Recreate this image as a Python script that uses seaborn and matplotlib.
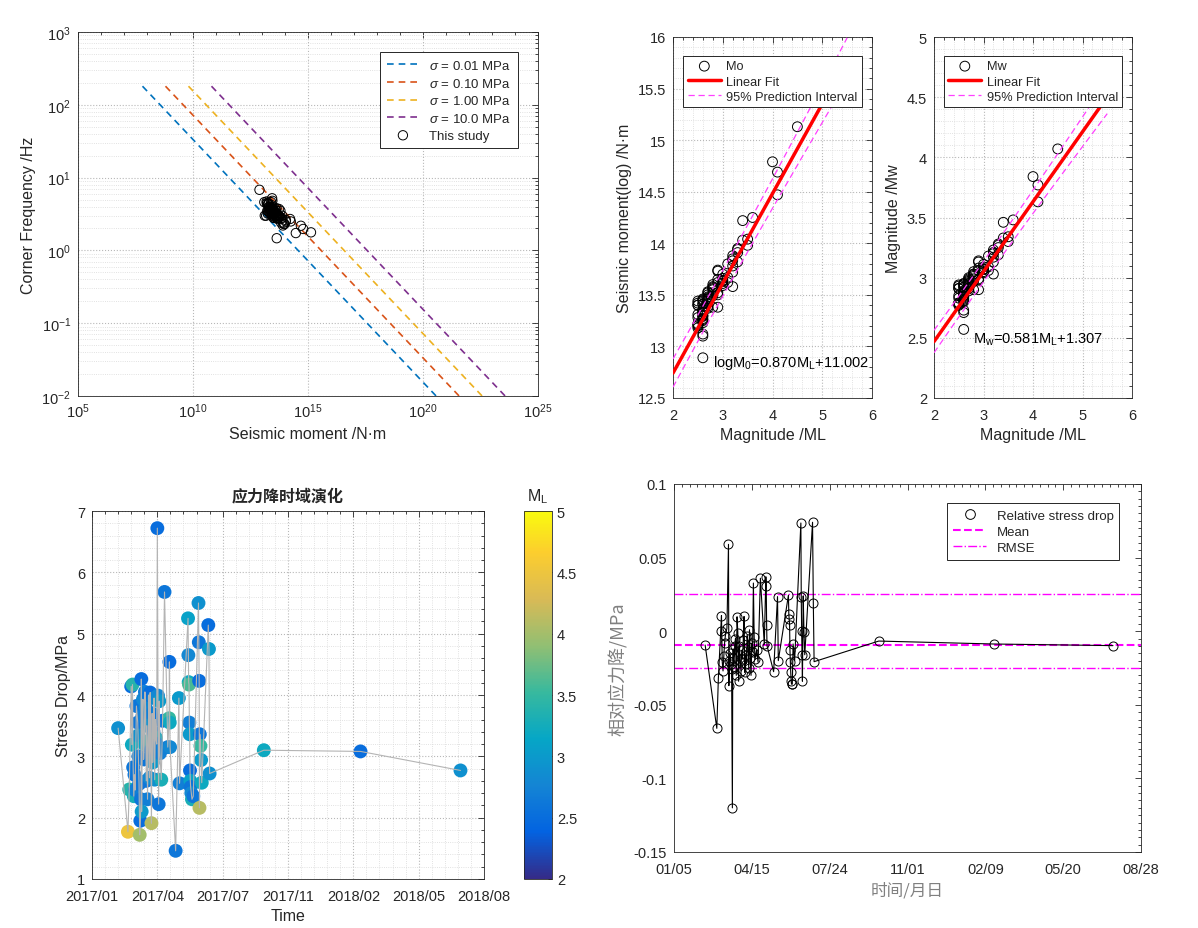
import numpy as np
import pandas as pd
import seaborn as sns
import matplotlib.pyplot as plt
import matplotlib.dates as mdates
from matplotlib.colors import LinearSegmentedColormap, Normalize
from matplotlib.cm import ScalarMappable
from matplotlib.lines import Line2D
from matplotlib.ticker import (MultipleLocator, LogLocator, NullFormatter,
                               FixedLocator, FormatStrFormatter, FuncFormatter)

# ---- event catalogue, in time order ----
# days after 2017-01-05
event_day = [40, 55, 57, 60, 61, 62, 63, 64, 65, 66,
             68, 70, 70.5, 71, 72, 73, 74, 75, 75.5, 76,
             77, 78, 79, 80, 81, 82, 83, 84, 85, 86,
             87, 88, 89, 90, 91, 92, 93, 94, 95, 96,
             97, 98, 99, 100, 101, 102, 103, 104, 106, 108,
             111, 116, 118, 118.5, 119, 119.5, 128, 133, 134, 147,
             147.5, 148, 148.5, 149, 149.5, 150, 150.5, 151, 152, 153,
             155, 163, 163.5, 164, 164.5, 165, 166, 167, 168, 178,
             179, 180, 263, 411, 564]

ml = [2.9, 4.5, 3.4, 2.5, 3.2, 3.4, 2.6, 3.3, 2.6, 2.7,
      2.6, 2.6, 2.9, 2.7, 2.6, 4.0, 2.5, 2.6, 2.5, 3.0,
      2.7, 2.8, 2.6, 3.1, 2.7, 2.8, 2.6, 2.9, 2.7, 3.3,
      2.6, 2.8, 2.5, 2.6, 4.1, 2.7, 3.0, 2.6, 2.8, 2.9,
      2.6, 3.2, 2.7, 2.5, 2.8, 2.6, 3.0, 2.7, 3.3, 2.6,
      2.6, 2.7, 3.5, 2.5, 3.2, 2.8, 2.6, 3.0, 2.7, 3.1,
      2.8, 3.2, 3.6, 2.7, 3.0, 2.5, 3.1, 2.6, 2.8, 3.3,
      2.6, 2.9, 2.6, 2.5, 4.1, 2.6, 3.5, 3.0, 3.2, 2.5,
      3.0, 2.9, 3.2, 2.5, 2.9]

stress_drop = [3.46, 1.77, 2.46, 4.14, 3.19, 4.17, 2.82, 2.35, 2.70, 2.45,
               3.82, 3.55, 3.34, 3.00, 2.55, 1.72, 1.95, 2.30, 4.26, 2.10,
               3.65, 3.93, 2.95, 3.20, 4.05, 3.80, 2.60, 3.50, 2.30, 3.25,
               4.00, 2.65, 4.04, 3.10, 1.91, 3.70, 2.90, 3.40, 3.95, 2.62,
               3.60, 3.30, 3.20, 6.72, 3.99, 2.22, 3.90, 3.05, 2.62, 3.58,
               5.68, 3.15, 3.62, 4.54, 3.55, 3.15, 1.46, 3.95, 2.56, 5.25,
               4.65, 4.21, 4.17, 3.55, 3.36, 2.77, 2.60, 2.50, 2.40, 2.30,
               2.35, 5.50, 4.86, 4.23, 2.16, 3.36, 3.17, 2.94, 2.57, 5.14,
               4.75, 2.72, 3.10, 3.08, 2.77]

rel_drop = [-0.0094, -0.066, -0.032, 0.000, 0.0106, -0.021, -0.027, -0.017, -0.008, -0.003,
            0.002, 0.059, -0.037, -0.020, -0.015, -0.022, -0.026, -0.120, -0.018, -0.012,
            -0.024, -0.010, -0.005, -0.030, 0.0098, -0.001, -0.034, -0.0098, -0.020, -0.027,
            -0.013, -0.019, -0.006, 0.010, -0.028, -0.016, -0.022, -0.003, -0.011, -0.025,
            0.001, -0.018, -0.030, -0.008, -0.014, 0.0327, -0.004, -0.019, -0.013, -0.021,
            0.036, -0.009, 0.037, 0.031, 0.0045, -0.0098, -0.0275, 0.0235, -0.020, 0.0245,
            0.012, 0.008, 0.0045, -0.013, -0.021, -0.028, -0.034, -0.036, -0.036, -0.0087,
            -0.020, 0.0735, 0.023, 0.0004, -0.016, -0.034, 0.024, -0.0007, -0.016, 0.074,
            0.019, -0.0207, -0.0067, -0.0087, -0.0098]

log_m0 = [13.38, 15.13, 14.03, 13.28, 13.78, 14.22, 13.44, 13.94, 13.36, 13.52,
          13.30, 13.10, 13.62, 13.42, 13.23, 14.79, 13.18, 12.89, 13.40, 13.64,
          13.48, 13.56, 13.33, 13.62, 13.46, 13.38, 13.41, 13.73, 13.50, 13.82,
          13.27, 13.58, 13.22, 13.35, 14.69, 13.44, 13.64, 13.30, 13.49, 13.65,
          13.33, 13.72, 13.53, 13.44, 13.60, 13.25, 13.66, 13.37, 13.95, 13.41,
          13.45, 13.46, 14.04, 13.20, 13.85, 13.55, 13.12, 13.61, 13.47, 13.80,
          13.57, 13.88, 14.25, 13.39, 13.70, 13.31, 13.67, 13.26, 13.52, 13.91,
          13.34, 13.74, 13.29, 13.21, 14.47, 13.46, 13.98, 13.59, 13.83, 13.40,
          13.63, 13.50, 13.58, 13.42, 13.52]

mw = [2.90, 4.07, 3.33, 2.83, 3.17, 3.46, 2.94, 3.27, 2.89, 2.99,
      2.85, 2.71, 3.06, 2.93, 2.80, 3.84, 2.77, 2.57, 2.91, 3.07,
      2.97, 3.02, 2.87, 3.06, 2.95, 2.90, 2.92, 3.13, 2.98, 3.19,
      2.83, 3.03, 2.79, 2.88, 3.77, 2.94, 3.07, 2.85, 2.97, 3.08,
      2.87, 3.13, 3.00, 2.94, 3.05, 2.81, 3.09, 2.89, 3.28, 2.92,
      2.95, 2.95, 3.34, 2.78, 3.21, 3.01, 2.73, 3.05, 2.96, 3.18,
      3.03, 3.23, 3.48, 2.91, 3.11, 2.85, 3.09, 2.82, 2.99, 3.25,
      2.87, 3.14, 2.84, 2.79, 3.63, 2.95, 3.30, 3.04, 3.20, 2.91,
      3.07, 2.98, 3.03, 2.93, 2.99]

fc = [3.6, 1.77, 2.5, 4.3, 2.9, 2.7, 3.2, 2.4, 3.3, 2.9,
      4.0, 4.6, 3.2, 3.4, 3.5, 1.97, 3.0, 6.8, 4.2, 1.47,
      3.5, 3.4, 3.7, 3.0, 3.9, 3.8, 3.1, 3.0, 2.8, 2.7,
      4.4, 3.0, 4.5, 3.6, 2.18, 3.7, 3.0, 3.9, 3.6, 2.8,
      3.9, 2.8, 3.2, 5.2, 3.3, 3.2, 3.1, 3.5, 2.3, 3.8,
      4.8, 3.6, 2.6, 4.7, 2.8, 3.3, 3.0, 3.5, 3.0, 3.5,
      3.7, 3.0, 2.5, 3.9, 3.0, 3.4, 2.7, 3.5, 2.8, 2.2,
      3.2, 3.7, 4.4, 4.4, 1.73, 3.4, 2.3, 3.0, 2.4, 4.6,
      3.8, 3.1, 3.2, 3.4, 3.2]

# Brune model curves
sigma_mpa = [0.01, 0.1, 1.0, 10.0]
sigma_labels = [r'$\mathit{\sigma}$ = 0.01 MPa', r'$\mathit{\sigma}$ = 0.10 MPa',
                r'$\mathit{\sigma}$ = 1.00 MPa', r'$\mathit{\sigma}$ = 10.0 MPa']
fc_span = [180.0, 0.005]
brune_log_const = 16.57

# fits written on the plots
fit_m0 = (0.870, 11.002)
fit_mw = (0.581, 1.307)
fit_ml_range = (2.0, 5.5)
pi_m0 = (0.125, 0.25, 2.9)   # half width at centre, curvature, centre
pi_mw = (0.085, 0.25, 2.9)

rel_mean = -0.0092
rel_rmse = 0.025

start_day = pd.Timestamp('2017-01-05')

# ---- style ----
sns.set_theme(style='white')
plt.rcParams['font.family'] = ['Liberation Sans', 'Noto Sans CJK SC', 'DejaVu Sans']
plt.rcParams['mathtext.fontset'] = 'custom'
plt.rcParams['mathtext.rm'] = 'Liberation Sans'
plt.rcParams['mathtext.it'] = 'Liberation Sans:italic'
plt.rcParams['mathtext.default'] = 'regular'
plt.rcParams['axes.unicode_minus'] = False

AX_COL = '#262626'
MATLAB_COLS = ['#0072BD', '#D95319', '#EDB120', '#7E2F8E']

parula_pts = [(0.2081, 0.1663, 0.5292), (0.0117, 0.3875, 0.8820), (0.0793, 0.5200, 0.8312),
              (0.0228, 0.6535, 0.7768), (0.2178, 0.7250, 0.6193), (0.5709, 0.7485, 0.4494),
              (0.8507, 0.7299, 0.3360), (0.9880, 0.8066, 0.1794), (0.9763, 0.9831, 0.0538)]
parula = LinearSegmentedColormap.from_list(
    'parula', list(zip([0, 8/63, 16/63, 24/63, 32/63, 40/63, 48/63, 56/63, 1.0], parula_pts)))

W, H = 1198, 929


def px_rect(x0, y0, x1, y1):
    return [x0 / W, 1 - y1 / H, (x1 - x0) / W, (y1 - y0) / H]


def matlab_axes(ax, grid=True):
    for s in ax.spines.values():
        s.set_visible(True)
        s.set_color(AX_COL)
        s.set_linewidth(0.6)
    ax.tick_params(which='both', direction='in', top=True, right=True,
                   colors=AX_COL, labelcolor=AX_COL, labelsize=10.5, width=0.6)
    ax.tick_params(which='major', length=4)
    ax.tick_params(which='minor', length=2)
    ax.tick_params(axis='x', which='major', pad=7)
    ax.tick_params(axis='y', which='major', pad=5)
    if grid:
        ax.grid(True, which='major', ls=':', lw=0.8, color='#b8b8b8')
        ax.grid(True, which='minor', ls=':', lw=0.6, color='#d8d8d8')
    ax.set_axisbelow(True)


def legend_box(ax, **kw):
    leg = ax.legend(frameon=True, fancybox=False, framealpha=1, edgecolor=AX_COL, **kw)
    leg.get_frame().set_linewidth(0.7)
    return leg


fig = plt.figure(figsize=(W / 100, H / 100), dpi=100)

# ---- panel 1: corner frequency vs seismic moment ----
ax1 = fig.add_axes(px_rect(78, 33, 538, 397))
fc_line = np.array(fc_span)
for sig, lab, col in zip(sigma_mpa, sigma_labels, MATLAB_COLS):
    m0_line = 10 ** (np.log10(sig) + brune_log_const - 3 * np.log10(fc_line))
    sns.lineplot(x=m0_line, y=fc_line, ax=ax1, color=col, lw=1.2,
                 linestyle=(0, (4, 3)), sort=False, estimator=None, label=lab)
sns.scatterplot(x=10 ** np.array(log_m0), y=fc, ax=ax1, marker='o', s=45,
                facecolor='none', edgecolor='black', linewidth=0.7, label='This study', zorder=3)
ax1.set_xscale('log')
ax1.set_yscale('log')
ax1.set_xlim(1e5, 1e25)
ax1.set_ylim(1e-2, 1e3)
ax1.xaxis.set_major_locator(FixedLocator([1e5, 1e10, 1e15, 1e20, 1e25]))
ax1.xaxis.set_minor_locator(LogLocator(base=10, subs=(1.0,), numticks=40))
ax1.xaxis.set_minor_formatter(NullFormatter())
ax1.yaxis.set_major_locator(LogLocator(base=10, numticks=10))
ax1.yaxis.set_minor_locator(LogLocator(base=10, subs=np.arange(2, 10), numticks=20))
ax1.yaxis.set_minor_formatter(NullFormatter())
matlab_axes(ax1, grid=False)
ax1.tick_params(axis='x', which='major', pad=4)
ax1.grid(True, which='major', ls=':', lw=0.8, color='#b8b8b8')
ax1.grid(True, which='minor', axis='y', ls=':', lw=0.6, color='#d8d8d8')
ax1.set_xlabel('Seismic moment /N·m', fontsize=11.5, color=AX_COL)
ax1.set_ylabel('Corner Frequency /Hz', fontsize=11.5, color=AX_COL)
legend_box(ax1, loc='upper right', bbox_to_anchor=(0.97, 0.962), fontsize=9.5,
           handlelength=2.4, borderpad=0.5, labelspacing=0.35)

# ---- panels 2 and 3: magnitude relations ----
fit_x = np.linspace(fit_ml_range[0], fit_ml_range[1], 80)


def magnitude_panel(rect, yvals, fit, pi, name, ylim, ylabel, text, text_xy):
    ax = fig.add_axes(px_rect(*rect))
    sns.scatterplot(x=ml, y=yvals, ax=ax, marker='o', s=50, facecolor='none',
                    edgecolor='black', linewidth=0.7, label=name, zorder=3)
    fit_y = fit[0] * fit_x + fit[1]
    half = pi[0] * np.sqrt(1 + pi[1] * (fit_x - pi[2]) ** 2)
    sns.lineplot(x=fit_x, y=fit_y, ax=ax, color='red', lw=2.5, label='Linear Fit', zorder=4)
    sns.lineplot(x=fit_x, y=fit_y + half, ax=ax, color='#ff40ff', lw=0.9,
                 linestyle=(0, (5, 3)), label='95% Prediction Interval', zorder=4)
    sns.lineplot(x=fit_x, y=fit_y - half, ax=ax, color='#ff40ff', lw=0.9,
                 linestyle=(0, (5, 3)), zorder=4)
    ax.set_xlim(2, 6)
    ax.set_ylim(*ylim)
    ax.xaxis.set_major_locator(MultipleLocator(1))
    ax.xaxis.set_minor_locator(MultipleLocator(0.2))
    ax.yaxis.set_major_locator(MultipleLocator(0.5))
    ax.yaxis.set_minor_locator(MultipleLocator(0.1))
    ax.yaxis.set_major_formatter(FormatStrFormatter('%g'))
    matlab_axes(ax)
    ax.set_xlabel('Magnitude /ML', fontsize=11.5, color=AX_COL)
    ax.set_ylabel(ylabel, fontsize=11.5, color=AX_COL)
    ax.text(text_xy[0], text_xy[1], text, fontsize=10.5, color='black', va='center')
    leg = legend_box(ax, loc='upper center', bbox_to_anchor=(0.5, 0.965), fontsize=9.2,
                     handlelength=2.6, borderpad=0.35, labelspacing=0.25, handletextpad=0.4)
    leg.set_zorder(10)
    return ax


magnitude_panel((673, 38, 872, 399), log_m0, fit_m0, pi_m0, 'Mo', (12.5, 16),
                'Seismic moment(log) /N·m', 'logM$_0$=0.870M$_L$+11.002', (2.8, 12.85))
magnitude_panel((934, 38, 1132, 399), mw, fit_mw, pi_mw, 'Mw', (2, 5),
                'Magnitude /Mw', 'M$_w$=0.581M$_L$+1.307', (2.78, 2.49))

# ---- shared time data ----
events = pd.DataFrame({
    'date': start_day + pd.to_timedelta(event_day, unit='D'),
    'ml': ml,
    'stress_drop': stress_drop,
    'rel_drop': rel_drop,
})
tick_dates = pd.date_range(start_day, periods=7, freq='100D')
minor_dates = pd.date_range(start_day, tick_dates[-1], freq='20D')

# ---- panel 4: stress drop through time ----
ax4 = fig.add_axes(px_rect(92, 512, 484, 880))
sns.scatterplot(data=events, x='date', y='stress_drop', hue='ml', palette=parula,
                hue_norm=(2, 5), s=100, linewidth=0, legend=False, ax=ax4, zorder=2)
sns.lineplot(data=events, x='date', y='stress_drop', sort=False, estimator=None,
             color='#b4b4b4', lw=0.8, ax=ax4, zorder=3)
ax4.set_xlim(mdates.date2num(tick_dates[0]), mdates.date2num(tick_dates[-1]))
ax4.xaxis.set_major_locator(FixedLocator(mdates.date2num(tick_dates)))
ax4.xaxis.set_minor_locator(FixedLocator(mdates.date2num(minor_dates)))
ax4.xaxis.set_major_formatter(mdates.DateFormatter('%Y/%m'))
ax4.set_ylim(1, 7)
ax4.yaxis.set_major_locator(MultipleLocator(1))
ax4.yaxis.set_minor_locator(MultipleLocator(0.2))
matlab_axes(ax4)
ax4.set_xlabel('Time', fontsize=11.5, color=AX_COL)
ax4.set_ylabel('Stress Drop/MPa', fontsize=11.5, color=AX_COL)
ax4.set_title('应力降时域演化', fontsize=11.5, fontweight='bold', color=AX_COL,
              family=['Noto Sans CJK SC', 'DejaVu Sans'], pad=8)

cax = fig.add_axes(px_rect(524, 512, 552, 880))
cb = fig.colorbar(ScalarMappable(norm=Normalize(2, 5), cmap=parula), cax=cax,
                  ticks=[2, 2.5, 3, 3.5, 4, 4.5, 5])
cb.ax.yaxis.set_major_formatter(FormatStrFormatter('%g'))
cb.outline.set_edgecolor(AX_COL)
cb.outline.set_linewidth(0.6)
cax.tick_params(direction='in', length=3, width=0.6, colors=AX_COL, labelsize=10.5)
cax.set_title('M$_L$', fontsize=11.5, color=AX_COL, pad=8)

# ---- panel 5: relative stress drop ----
ax5 = fig.add_axes(px_rect(674, 485, 1141, 853))
sns.lineplot(data=events, x='date', y='rel_drop', sort=False, estimator=None,
             color='black', lw=0.8, marker='o', ms=6.5, mfc='none', mec='black',
             mew=0.7, ax=ax5, zorder=3)
ax5.axhline(rel_mean, color='magenta', ls='--', lw=1.5, zorder=2)
ax5.axhline(rel_rmse, color='magenta', ls='-.', lw=1.0, zorder=2)
ax5.axhline(-rel_rmse, color='magenta', ls='-.', lw=1.0, zorder=2)
ax5.set_xlim(mdates.date2num(tick_dates[0]), mdates.date2num(tick_dates[-1]))
ax5.xaxis.set_major_locator(FixedLocator(mdates.date2num(tick_dates)))
ax5.xaxis.set_minor_locator(FixedLocator(mdates.date2num(
    pd.date_range(start_day, tick_dates[-1], freq='10D'))))
ax5.xaxis.set_major_formatter(mdates.DateFormatter('%m/%d'))
ax5.set_ylim(-0.15, 0.1)
ax5.yaxis.set_major_locator(MultipleLocator(0.05))
ax5.yaxis.set_minor_locator(MultipleLocator(0.005))
ax5.yaxis.set_major_formatter(FuncFormatter(lambda v, p: '%g' % round(v, 3)))
matlab_axes(ax5, grid=False)
cjk = ['Noto Sans CJK SC', 'DejaVu Sans']
ax5.set_xlabel('时间/月日', fontsize=12, color='#808080', family=cjk)
ax5.set_ylabel('相对应力降/MPa', fontsize=13, color='#808080', family=cjk)
handles5 = [Line2D([], [], marker='o', ls='none', mfc='none', mec='black', ms=7, mew=0.7),
            Line2D([], [], color='magenta', ls='--', lw=1.5),
            Line2D([], [], color='magenta', ls='-.', lw=1.0)]
legend_box(ax5, handles=handles5, labels=['Relative stress drop', 'Mean', 'RMSE'],
           loc='upper right', bbox_to_anchor=(0.968, 0.965), fontsize=9.5,
           handlelength=2.5, borderpad=0.45, labelspacing=0.3)

fig.savefig('out.png', dpi=100)
